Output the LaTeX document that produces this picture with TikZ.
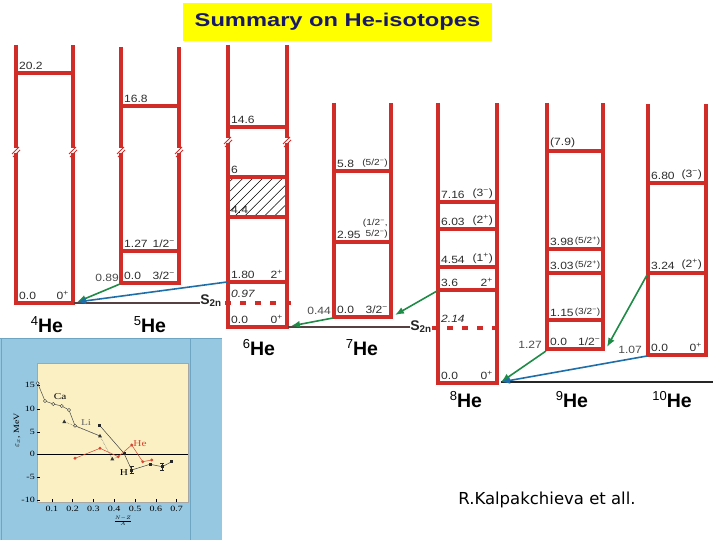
\documentclass[tikz,border=0pt]{standalone}
\usepackage{fontspec}
\setmainfont{Liberation Sans}
\newfontfamily\widesans{Liberation Sans}[FakeStretch=1.15]
\newfontfamily\titlefont{Liberation Sans}[FakeStretch=1.28]
\newfontfamily\plotfont{Liberation Serif}[FakeStretch=1.25]
\newfontfamily\creditfont{DejaVu Sans}
\usetikzlibrary{arrows.meta, patterns.meta}

\definecolor{levred}{RGB}{208,44,40}
\definecolor{labgray}{RGB}{45,45,45}
\definecolor{arrgreen}{RGB}{30,140,70}
\definecolor{arrblue}{RGB}{30,110,170}
\definecolor{basegray}{RGB}{85,65,65}
\definecolor{titleyellow}{RGB}{255,255,0}
\definecolor{titlenavy}{RGB}{25,25,105}
\definecolor{plotblue}{RGB}{150,200,226}
\definecolor{plotedge}{RGB}{110,165,195}
\definecolor{plotyellow}{RGB}{250,240,196}
\definecolor{plotred}{RGB}{215,70,50}

\newcommand{\spl}{\textsuperscript{+}}
\newcommand{\smi}{\textsuperscript{−}}
\newcommand{\sml}{\widesans\fontsize{8.8}{10.5}\selectfont}
\newcommand{\isot}[1]{{\fontsize{13}{13}\selectfont\mdseries\raisebox{7pt}{#1}}He}

\begin{document}
\begin{tikzpicture}[x=1pt, y=-1pt,
    wall/.style={draw=levred, line width=3.4pt},
    lev/.style={draw=levred, line width=3.4pt},
    s2ndash/.style={draw=levred, line width=3.4pt, dash pattern=on 6pt off 9pt},
    brk/.style={draw=levred, line width=1pt},
    elab/.style={anchor=south west, inner sep=0pt, text=labgray, font=\widesans\fontsize{10.5}{11}\selectfont},
    jlab/.style={anchor=south east, inner sep=0pt, text=labgray, align=right, font=\widesans\fontsize{10.5}{11}\selectfont},
    qlab/.style={anchor=south east, inner sep=0pt, text=labgray!85, font=\widesans\fontsize{10.5}{11}\selectfont},
    iso/.style={anchor=base, inner sep=0pt, font=\fontsize{19.5}{19.5}\selectfont\bfseries},
    s2n/.style={inner sep=0pt, text=black!85, font=\fontsize{14}{14}\selectfont\bfseries},
    garrow/.style={-{Latex[length=9pt, width=7pt]}, draw=arrgreen, line width=1.6pt},
    barrow/.style={-{Latex[length=9pt, width=7pt]}, draw=arrblue, line width=1.6pt},
    base/.style={draw=basegray, line width=1.4pt},
    tick/.style={inner sep=0pt, font=\plotfont\fontsize{8}{8}\selectfont}
]
\path[use as bounding box, fill=white] (0,0) rectangle (720,540);

% title
\node[fill=titleyellow, text=titlenavy, font=\titlefont\fontsize{18.5}{19}\selectfont\bfseries,
      minimum width=309pt, minimum height=38pt, inner sep=0pt] (title) at (337.5,22) {Summary on He-isotopes};

% 4He
\draw[wall] (16,45) |- (73,303) -- (73,45);
\foreach \yy/\ee/\jj [count=\i] in {73/20.2/{}, 303/0.0/{0\spl}}{
  \draw[lev] (16,\yy) -- (73,\yy);
  \node[elab] (e4-\i) at (19,\yy-3) {\ee};
  \node[jlab] (j4-\i) at (69,\yy-3) {\jj};
}
% 5He
\draw[wall] (121,47) |- (179,283) -- (179,47);
\foreach \yy/\ee/\jj [count=\i] in {106/16.8/{}, 251/1.27/{1/2\smi}, 283/0.0/{3/2\smi}}{
  \draw[lev] (121,\yy) -- (179,\yy);
  \node[elab] (e5-\i) at (124,\yy-3) {\ee};
  \node[jlab] (j5-\i) at (175,\yy-3) {\jj};
}
% 6He
\fill[pattern={Lines[angle=45, distance=7pt, line width=0.5pt]}] (228,177) rectangle (287,217);
\draw[wall] (228,45) |- (287,327) -- (287,45);
\foreach \yy/\ee/\jj [count=\i] in {127/14.6/{}, 177/6/{}, 217/4.4/{}, 282/1.80/{2\spl}, 327/0.0/{0\spl}}{
  \draw[lev] (228,\yy) -- (287,\yy);
  \node[elab] (e6-\i) at (231,\yy-3) {\ee};
  \node[jlab] (j6-\i) at (283,\yy-3) {\jj};
}
% 7He
\draw[wall] (334,103) |- (391,317) -- (391,103);
\foreach \yy/\ee/\jj [count=\i] in {171/5.8/{\sml(5/2\smi)}, 242/2.95/{\sml(1/2\smi,\\\sml 5/2\smi)}, 317/0.0/{3/2\smi}}{
  \draw[lev] (334,\yy) -- (391,\yy);
  \node[elab] (e7-\i) at (337,\yy-3) {\ee};
  \node[jlab] (j7-\i) at (388,\yy-3) {\jj};
}
% 8He
\draw[wall] (438,103) |- (497,383) -- (497,103);
\foreach \yy/\ee/\jj [count=\i] in {202/7.16/{(3\smi)}, 229/6.03/{(2\spl)}, 267/4.54/{(1\spl)}, 290/3.6/{2\spl}, 383/0.0/{0\spl}}{
  \draw[lev] (438,\yy) -- (497,\yy);
  \node[elab] (e8-\i) at (441,\yy-3) {\ee};
  \node[jlab] (j8-\i) at (493,\yy-3) {\jj};
}
% 9He
\draw[wall] (547,103) |- (603,349) -- (603,103);
\foreach \yy/\ee/\jj [count=\i] in {151/(7.9)/{}, 249/3.98/{\sml(5/2\spl)}, 273/3.03/{\sml(5/2\spl)}, 320/1.15/{\sml(3/2\smi)}, 349/0.0/{1/2\smi}}{
  \draw[lev] (547,\yy) -- (603,\yy);
  \node[elab] (e9-\i) at (550,\yy-3) {\ee};
  \node[jlab] (j9-\i) at (600.5,\yy-3) {\jj};
}
% 10He
\draw[wall] (648,104) |- (706,355) -- (706,104);
\foreach \yy/\ee/\jj [count=\i] in {183/6.80/{(3\smi)}, 273/3.24/{(2\spl)}, 355/0.0/{0\spl}}{
  \draw[lev] (648,\yy) -- (706,\yy);
  \node[elab] (e10-\i) at (651,\yy-3) {\ee};
  \node[jlab] (j10-\i) at (702,\yy-3) {\jj};
}

% broken walls
\foreach \xx/\yy in {16/153, 73/153, 121/153, 179/153, 228/143, 287/143}{
  \fill[white] (\xx-2.5,\yy) rectangle ++(5,-5);
  \draw[brk] (\xx-4,\yy+1) -- (\xx+3,\yy-6) (\xx-3,\yy+4) -- (\xx+4,\yy-3);
}

% two-neutron thresholds
\node[s2n] (s6) at (211,301) {S\textsubscript{2n}};
\node[s2n] (s8) at (421,327) {S\textsubscript{2n}};
\draw[s2ndash] (225,303) -- (293,303);
\draw[s2ndash] (432,328) -- (500,328);
\node[elab, font=\widesans\itshape\fontsize{10.5}{11}\selectfont] (e6-0) at (231,298) {0.97};
\node[elab, font=\widesans\itshape\fontsize{10.5}{11}\selectfont] (e8-0) at (441,323) {2.14};

% decay energies
\node[qlab] (q5) at (119,282) {0.89};
\node[qlab] (q7) at (331,315) {0.44};
\node[qlab] (q9) at (542,349) {1.27};
\node[qlab] (q10) at (642,354) {1.07};

% end points of the connectors
\coordinate (g4) at (77,302);
\coordinate (g5) at (120,284);
\coordinate (x6) at (227,282);
\coordinate (g6) at (291,326);
\coordinate (g7l) at (333,318);
\coordinate (g7r) at (395,315);
\coordinate (x8) at (437,291);
\coordinate (g8) at (501,382);
\coordinate (g9l) at (546,351);
\coordinate (g9r) at (607,347);
\coordinate (x10) at (647,275);
\coordinate (g10) at (647,356);
\coordinate (b10) at (713,382);

\draw[base] (74,303) -- (s6.west |- 0,303);
\draw[base] (288,327) -- (s8.west |- 0,327);
\draw[base, draw=black!85] (g8) -- (b10);

\draw[garrow] (g5) -- (g4);
\draw[barrow] (x6) -- (g4);
\draw[garrow] (g7l) -- (g6);
\draw[garrow] (x8) -- (g7r);
\draw[garrow] (g9l) -- (g8);
\draw[barrow] (g10) -- (g8);
\draw[garrow] (x10) -- (g9r);

% nuclei
\node[iso] (he4) at (47,332) {\isot{4}};
\node[iso] (he5) at (150,332) {\isot{5}};
\node[iso] (he6) at (259,355) {\isot{6}};
\node[iso] (he7) at (362,355) {\isot{7}};
\node[iso] (he8) at (466,407) {\isot{8}};
\node[iso] (he9) at (572,407) {\isot{9}};
\node[iso] (he10) at (672,407) {\isot{10}};

% inset: threshold systematics
\fill[plotblue] (0,338) rectangle (222,540);
\draw[plotedge, line width=1pt] (0,338.5) -- (222,338.5) (1,338) -- (1,540) (190,338) -- (190,540);
\filldraw[fill=plotyellow, draw=gray!70, line width=0.4pt] (37,363) rectangle (188,502);
\draw[black, line width=0.6pt] (37,454) -- (188,454);
\foreach \v/\yy [count=\i] in {15/385, 10/409, 5/432, 0/454, -5/477, -10/500}{
  \draw[line width=0.4pt] (37,\yy) -- (40,\yy);
  \node[tick, anchor=east] (ty\i) at (35,\yy) {\v};
}
\foreach \v [count=\i] in {0.1, 0.2, 0.3, 0.4, 0.5, 0.6, 0.7}{
  \draw[line width=0.4pt] (31+20.8*\i,502) -- (31+20.8*\i,499);
  \node[tick, anchor=north] (tx\i) at (31+20.8*\i,506) {\v};
}
\node[tick, rotate=90] (ylab) at (17,430) {$\varepsilon_x$, MeV};
\node[tick, font=\plotfont\fontsize{7}{7}\selectfont] (xlab) at (123,521) {$\frac{N-Z}{A}$};

% Ca
\draw[black!70, line width=0.5pt] (37.7,383.3) -- (45,401) -- (53.3,404) -- (61.7,406) -- (69,410) -- (75,425.7) -- (100,436);
\foreach \xx/\yy in {37.7/383.3, 45/401, 53.3/404, 61.7/406, 69/410, 75/425.7}
  \filldraw[fill=plotyellow, draw=black!80, line width=0.4pt] (\xx,\yy) circle (1.6);
% Li
\draw[black!60, line width=0.5pt, densely dotted] (64.3,421.7) -- (100,436) -- (112.3,459) -- (118.3,456.7);
\foreach \xx/\yy in {64.3/421.7, 100/436, 112.3/459}
  \fill[black!80] (\xx,\yy-2.2) -- ++(-2,3.6) -- ++(4,0) -- cycle;
% H
\draw[black!75, line width=0.5pt] (99.3,425) -- (124,453.3) -- (131.7,470) -- (150,464.3) -- (162.3,466.7) -- (171.7,461.7);
\foreach \xx/\yy in {99.3/425, 124/453.3, 131.7/470, 150/464.3, 162.3/466.7, 171.7/461.7}
  \fill[black!85] (\xx-1.5,\yy-1.5) rectangle ++(3,3);
\draw[black!85, line width=0.5pt] (131.7,466.5) -- (131.7,473.5) (129.7,466.5) -- (133.7,466.5) (129.7,473.5) -- (133.7,473.5)
  (162.3,463.2) -- (162.3,470.2) (160.3,463.2) -- (164.3,463.2) (160.3,470.2) -- (164.3,470.2);
% He
\draw[plotred, line width=0.5pt] (75,458.3) -- (100,448.3) -- (118.3,456.7) -- (131.7,445) -- (142.7,461.7) -- (151.7,460);
\foreach \xx/\yy in {75/458.3, 100/448.3, 118.3/456.7, 131.7/445, 142.7/461.7, 151.7/460}
  \fill[plotred] (\xx,\yy) circle (1.6);

\node[tick, font=\plotfont\fontsize{9}{9}\selectfont] (lca) at (60,397) {Ca};
\node[tick, font=\plotfont\fontsize{9}{9}\selectfont, text=black!60] (lli) at (86,423) {Li};
\node[tick, font=\plotfont\fontsize{9}{9}\selectfont, text=plotred] (lhe) at (140,444) {He};
\node[tick, font=\plotfont\fontsize{9}{9}\selectfont] (lh) at (124,473) {H};

% credit
\node[font=\creditfont\fontsize{16.5}{17}\selectfont, inner sep=0pt] (credit) at (547,500) {R.Kalpakchieva et all.};
\end{tikzpicture}
\end{document}
